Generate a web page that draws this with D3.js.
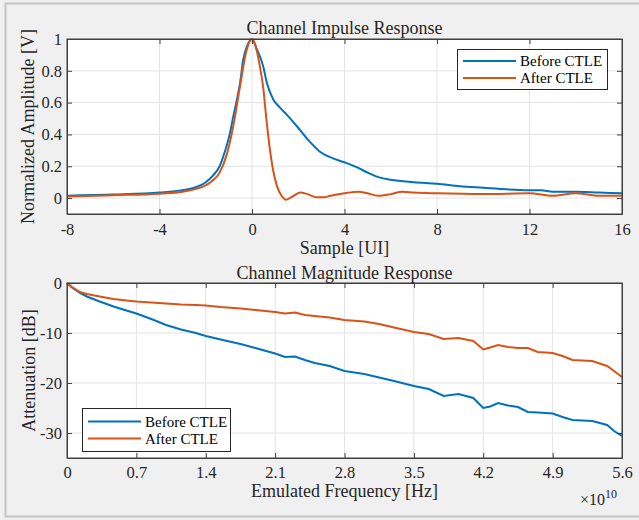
<!DOCTYPE html>
<html>
<head>
<meta charset="utf-8">
<script src="https://cdn.jsdelivr.net/npm/d3@7"></script>
<style>
  body { margin: 0; background: #f0f0f0; }
  svg { display: block; }
</style>
</head>
<body>
<svg width="639" height="520"></svg>
<script>
// impulse response, x in UI
var impX      = [-8, -6, -4, -3, -2.5, -2, -1.7, -1.4, -1.2, -0.95, -0.8, -0.65, -0.5, -0.38, -0.2, 0, 0.2, 0.48, 0.65, 0.92, 1.2, 1.5, 1.95, 2.4, 2.95, 3.5, 4, 4.6, 5, 5.5, 6, 7, 8, 9, 10, 11, 12, 12.5, 13, 14, 15, 16];
var impBefore = [0.015, 0.022, 0.035, 0.05, 0.065, 0.1, 0.14, 0.2, 0.28, 0.41, 0.52, 0.62, 0.74, 0.87, 0.96, 1.0, 0.94, 0.83, 0.72, 0.62, 0.57, 0.525, 0.45, 0.37, 0.29, 0.25, 0.225, 0.19, 0.16, 0.13, 0.115, 0.1, 0.09, 0.075, 0.065, 0.055, 0.05, 0.05, 0.04, 0.04, 0.035, 0.03];

var impX2     = [-8, -6, -4, -3, -2.5, -2, -1.7, -1.4, -1.1, -0.8, -0.5, -0.25, 0, 0.2, 0.35, 0.48, 0.62, 0.78, 0.92, 1.08, 1.28, 1.47, 1.75, 2.08, 2.4, 2.8, 3.1, 3.4, 4, 4.6, 5, 5.45, 6, 6.5, 7, 8, 10, 12, 13, 14, 15, 16];
var impAfter  = [0.01, 0.018, 0.028, 0.04, 0.055, 0.08, 0.11, 0.16, 0.27, 0.46, 0.72, 0.92, 1.0, 0.93, 0.82, 0.7, 0.5, 0.3, 0.17, 0.075, 0.015, -0.01, 0.01, 0.035, 0.025, 0.005, 0.005, 0.015, 0.03, 0.04, 0.03, 0.015, 0.025, 0.04, 0.035, 0.03, 0.025, 0.03, 0.015, 0.03, 0.015, 0.015];

// magnitude response, x in units of 1e10 Hz
var magX      = [0, 0.05, 0.13, 0.2, 0.33, 0.47, 0.6, 0.7, 0.85, 1.0, 1.15, 1.3, 1.4, 1.55, 1.75, 1.9, 2.1, 2.2, 2.3, 2.4, 2.5, 2.65, 2.8, 3.0, 3.15, 3.3, 3.5, 3.65, 3.8, 3.95, 4.1, 4.2, 4.27, 4.35, 4.45, 4.55, 4.65, 4.75, 4.9, 5.0, 5.1, 5.3, 5.45, 5.52, 5.6];
var magBefore = [0, -0.9, -2.0, -2.7, -3.7, -4.7, -5.5, -6.1, -7.2, -8.4, -9.3, -10.0, -10.6, -11.3, -12.2, -13.0, -14.1, -14.8, -14.7, -15.4, -16.0, -16.6, -17.6, -18.2, -18.9, -19.6, -20.6, -21.2, -22.6, -22.2, -23.0, -25.0, -24.7, -24.0, -24.5, -24.8, -25.8, -25.9, -26.1, -26.8, -27.4, -27.6, -28.4, -29.6, -30.6];
var magAfter  = [0, -0.8, -1.8, -2.2, -2.7, -3.2, -3.5, -3.7, -3.9, -4.1, -4.3, -4.4, -4.5, -4.8, -5.1, -5.4, -5.8, -6.1, -5.9, -6.4, -6.6, -6.9, -7.4, -7.7, -8.2, -8.9, -9.8, -10.2, -11.2, -11.0, -11.6, -13.3, -12.9, -12.4, -12.8, -13.0, -13.0, -13.8, -14.0, -14.6, -15.4, -15.6, -16.6, -17.6, -18.8];

var impXTicks = [-8, -4, 0, 4, 8, 12, 16];
var impYTicks = [0, 0.2, 0.4, 0.6, 0.8, 1];
var magXTicks = [0, 0.7, 1.4, 2.1, 2.8, 3.5, 4.2, 4.9, 5.6];
var magYTicks = [0, -10, -20, -30];
var seriesNames = ["Before CTLE", "After CTLE"];

var blue = "#0072BD", orange = "#D95319";
var font = "'Liberation Serif', 'Times New Roman', serif";

var svg = d3.select("svg");

// figure border
svg.append("rect")
  .attr("x", 5.5).attr("y", 3.5).attr("width", 640).attr("height", 513)
  .attr("fill", "#f0f0f0").attr("stroke", "#c4c4c4").attr("stroke-width", 2);

var left = 67, right = 622;

function drawGrid(top, bottom, xs, ys, xTicks, yTicks) {
  var g = svg.append("g");
  g.append("rect").attr("x", left).attr("y", top)
    .attr("width", right - left).attr("height", bottom - top).attr("fill", "white");
  g.selectAll(".gx").data(xTicks).enter().append("line")
    .attr("x1", function(d) { return xs(d); }).attr("x2", function(d) { return xs(d); })
    .attr("y1", top).attr("y2", bottom)
    .attr("stroke", "#e3e3e3").attr("stroke-width", 1);
  g.selectAll(".gy").data(yTicks).enter().append("line")
    .attr("y1", function(d) { return ys(d); }).attr("y2", function(d) { return ys(d); })
    .attr("x1", left).attr("x2", right)
    .attr("stroke", "#e3e3e3").attr("stroke-width", 1);
}

function drawFrame(top, bottom, xs, ys, xTicks, yTicks, xPad) {
  var g = svg.append("g");
  var ax = d3.axisBottom(xs).tickValues(xTicks).tickSizeInner(-5).tickSizeOuter(0).tickPadding(xPad).tickFormat(function(d) { return d; });
  var axT = d3.axisTop(xs).tickValues(xTicks).tickSizeInner(-5).tickSizeOuter(0).tickFormat("");
  var ay = d3.axisLeft(ys).tickValues(yTicks).tickSizeInner(-5).tickSizeOuter(0).tickPadding(5).tickFormat(function(d) { return d; });
  var ayR = d3.axisRight(ys).tickValues(yTicks).tickSizeInner(-5).tickSizeOuter(0).tickFormat("");
  var list = [
    g.append("g").attr("transform", "translate(0," + bottom + ")").call(ax),
    g.append("g").attr("transform", "translate(0," + top + ")").call(axT),
    g.append("g").attr("transform", "translate(" + left + ",0)").call(ay),
    g.append("g").attr("transform", "translate(" + right + ",0)").call(ayR)
  ];
  list.forEach(function(a) {
    a.selectAll("path").attr("stroke", "#404040");
    a.selectAll("line").attr("stroke", "#404040");
    a.selectAll("text").attr("fill", "#262626")
      .style("font-family", font).style("font-size", "16.5px");
  });
  g.append("rect").attr("x", left).attr("y", top).attr("width", right - left).attr("height", bottom - top)
    .attr("fill", "none").attr("stroke", "#404040").attr("stroke-width", 1);
}

function legend(x, y, w, h) {
  var g = svg.append("g").attr("transform", "translate(" + x + "," + y + ")");
  g.append("rect").attr("x", 0.5).attr("y", 0.5).attr("width", w).attr("height", h)
    .attr("fill", "white").attr("stroke", "#262626").attr("stroke-width", 1);
  [blue, orange].forEach(function(c, i) {
    var yy = h / 2 - 8.5 + i * 17 + 0.5;
    g.append("line").attr("x1", 6).attr("x2", 59).attr("y1", yy).attr("y2", yy)
      .attr("stroke", c).attr("stroke-width", 2);
    g.append("text").attr("x", 63).attr("y", yy + 5)
      .style("font-family", font).style("font-size", "15px").attr("fill", "#000")
      .text(seriesNames[i]);
  });
}

function label(x, y, txt, rot) {
  var t = svg.append("text")
    .attr("text-anchor", "middle")
    .style("font-family", font).style("font-size", "18px").attr("fill", "#262626")
    .text(txt);
  if (rot) t.attr("transform", "translate(" + x + "," + y + ")rotate(-90)");
  else t.attr("x", x).attr("y", y);
}

// ---------- top: impulse response ----------
var top1 = 39, bot1 = 214;
var x1 = d3.scaleLinear().domain([-8, 16]).range([left, right]);
var y1 = d3.scaleLinear().domain([-0.1, 1]).range([bot1, top1]);
drawGrid(top1, bot1, x1, y1, impXTicks, impYTicks);

var line1 = d3.line().curve(d3.curveMonotoneX)
  .x(function(d) { return x1(d[0]); }).y(function(d) { return y1(d[1]); });
svg.append("path").datum(d3.zip(impX, impBefore))
  .attr("fill", "none").attr("stroke", blue).attr("stroke-width", 2).attr("d", line1);
svg.append("path").datum(d3.zip(impX2, impAfter))
  .attr("fill", "none").attr("stroke", orange).attr("stroke-width", 2).attr("d", line1);

drawFrame(top1, bot1, x1, y1, impXTicks, impYTicks, 9.5);
legend(457, 49, 150, 40);

label((left + right) / 2, 34, "Channel Impulse Response");
label((left + right) / 2, 254, "Sample [UI]");
label(34, (top1 + bot1) / 2, "Normalized Amplitude [V]", true);

// ---------- bottom: magnitude response ----------
var top2 = 283, bot2 = 458;
var x2 = d3.scaleLinear().domain([0, 5.6]).range([left, right]);
var y2 = d3.scaleLinear().domain([-35, 0]).range([bot2, top2]);
drawGrid(top2, bot2, x2, y2, magXTicks, magYTicks);

var line2 = d3.line()
  .x(function(d) { return x2(d[0]); }).y(function(d) { return y2(d[1]); });
svg.append("path").datum(d3.zip(magX, magBefore))
  .attr("fill", "none").attr("stroke", blue).attr("stroke-width", 2).attr("d", line2);
svg.append("path").datum(d3.zip(magX, magAfter))
  .attr("fill", "none").attr("stroke", orange).attr("stroke-width", 2).attr("d", line2);

drawFrame(top2, bot2, x2, y2, magXTicks, magYTicks, 8.5);
legend(82, 408, 148, 43);

label((left + right) / 2, 279, "Channel Magnitude Response");
label((left + right) / 2, 497, "Emulated Frequency [Hz]");
label(35, (top2 + bot2) / 2, "Attenuation [dB]", true);

var ex = svg.append("text").attr("x", 580).attr("y", 505)
  .style("font-family", font).style("font-size", "16px").attr("fill", "#262626");
ex.append("tspan").text("\u00d710");
ex.append("tspan").attr("dy", -7).style("font-size", "12px").text("10");
</script>
</body>
</html>
